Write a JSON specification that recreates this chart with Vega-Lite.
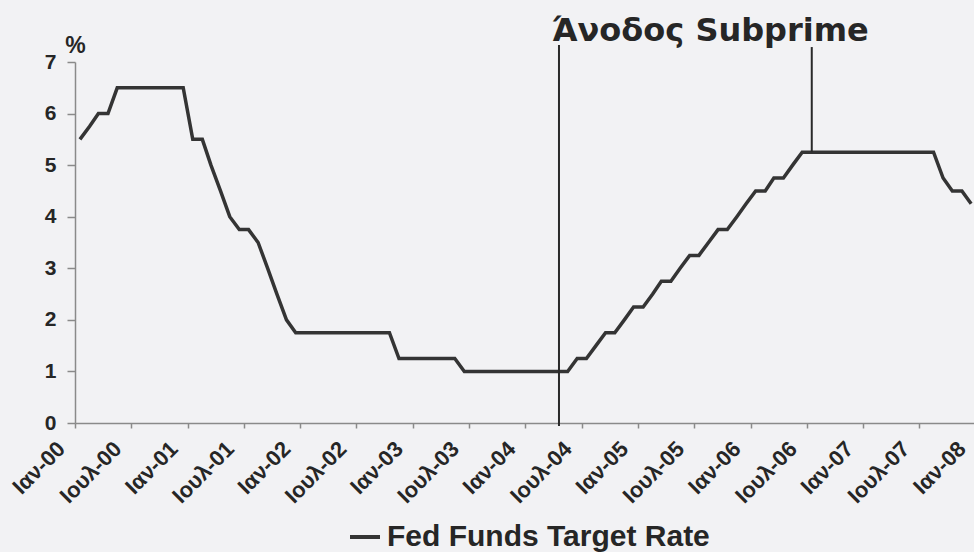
{
  "$schema": "https://vega.github.io/schema/vega-lite/v6.json",
  "width": 902,
  "height": 361,
  "autosize": {"type": "none"},
  "padding": {"left": 75, "top": 62, "right": 0, "bottom": 129},
  "background": "#f2f2f4",
  "title": {
    "text": "Άνοδος Subprime",
    "anchor": "start",
    "frame": "group",
    "font": "DejaVu Sans",
    "fontWeight": "bold",
    "fontSize": 32,
    "color": "#262626",
    "baseline": "alphabetic",
    "offset": 0,
    "dx": 477,
    "dy": 39
  },
  "config": {"view": {"stroke": null}},
  "datasets": {
    "rate": [
      {"date": "2000-01-01", "rate": 5.5}, {"date": "2000-02-01", "rate": 5.75}, {"date": "2000-03-01", "rate": 6.0}, {"date": "2000-04-01", "rate": 6.0},
      {"date": "2000-05-01", "rate": 6.5}, {"date": "2000-06-01", "rate": 6.5}, {"date": "2000-07-01", "rate": 6.5}, {"date": "2000-08-01", "rate": 6.5},
      {"date": "2000-09-01", "rate": 6.5}, {"date": "2000-10-01", "rate": 6.5}, {"date": "2000-11-01", "rate": 6.5}, {"date": "2000-12-01", "rate": 6.5},
      {"date": "2001-01-01", "rate": 5.5}, {"date": "2001-02-01", "rate": 5.5}, {"date": "2001-03-01", "rate": 5.0}, {"date": "2001-04-01", "rate": 4.5},
      {"date": "2001-05-01", "rate": 4.0}, {"date": "2001-06-01", "rate": 3.75}, {"date": "2001-07-01", "rate": 3.75}, {"date": "2001-08-01", "rate": 3.5},
      {"date": "2001-09-01", "rate": 3.0}, {"date": "2001-10-01", "rate": 2.5}, {"date": "2001-11-01", "rate": 2.0}, {"date": "2001-12-01", "rate": 1.75},
      {"date": "2002-01-01", "rate": 1.75}, {"date": "2002-02-01", "rate": 1.75}, {"date": "2002-03-01", "rate": 1.75}, {"date": "2002-04-01", "rate": 1.75},
      {"date": "2002-05-01", "rate": 1.75}, {"date": "2002-06-01", "rate": 1.75}, {"date": "2002-07-01", "rate": 1.75}, {"date": "2002-08-01", "rate": 1.75},
      {"date": "2002-09-01", "rate": 1.75}, {"date": "2002-10-01", "rate": 1.75}, {"date": "2002-11-01", "rate": 1.25}, {"date": "2002-12-01", "rate": 1.25},
      {"date": "2003-01-01", "rate": 1.25}, {"date": "2003-02-01", "rate": 1.25}, {"date": "2003-03-01", "rate": 1.25}, {"date": "2003-04-01", "rate": 1.25},
      {"date": "2003-05-01", "rate": 1.25}, {"date": "2003-06-01", "rate": 1.0}, {"date": "2003-07-01", "rate": 1.0}, {"date": "2003-08-01", "rate": 1.0},
      {"date": "2003-09-01", "rate": 1.0}, {"date": "2003-10-01", "rate": 1.0}, {"date": "2003-11-01", "rate": 1.0}, {"date": "2003-12-01", "rate": 1.0},
      {"date": "2004-01-01", "rate": 1.0}, {"date": "2004-02-01", "rate": 1.0}, {"date": "2004-03-01", "rate": 1.0}, {"date": "2004-04-01", "rate": 1.0},
      {"date": "2004-05-01", "rate": 1.0}, {"date": "2004-06-01", "rate": 1.25}, {"date": "2004-07-01", "rate": 1.25}, {"date": "2004-08-01", "rate": 1.5},
      {"date": "2004-09-01", "rate": 1.75}, {"date": "2004-10-01", "rate": 1.75}, {"date": "2004-11-01", "rate": 2.0}, {"date": "2004-12-01", "rate": 2.25},
      {"date": "2005-01-01", "rate": 2.25}, {"date": "2005-02-01", "rate": 2.5}, {"date": "2005-03-01", "rate": 2.75}, {"date": "2005-04-01", "rate": 2.75},
      {"date": "2005-05-01", "rate": 3.0}, {"date": "2005-06-01", "rate": 3.25}, {"date": "2005-07-01", "rate": 3.25}, {"date": "2005-08-01", "rate": 3.5},
      {"date": "2005-09-01", "rate": 3.75}, {"date": "2005-10-01", "rate": 3.75}, {"date": "2005-11-01", "rate": 4.0}, {"date": "2005-12-01", "rate": 4.25},
      {"date": "2006-01-01", "rate": 4.5}, {"date": "2006-02-01", "rate": 4.5}, {"date": "2006-03-01", "rate": 4.75}, {"date": "2006-04-01", "rate": 4.75},
      {"date": "2006-05-01", "rate": 5.0}, {"date": "2006-06-01", "rate": 5.25}, {"date": "2006-07-01", "rate": 5.25}, {"date": "2006-08-01", "rate": 5.25},
      {"date": "2006-09-01", "rate": 5.25}, {"date": "2006-10-01", "rate": 5.25}, {"date": "2006-11-01", "rate": 5.25}, {"date": "2006-12-01", "rate": 5.25},
      {"date": "2007-01-01", "rate": 5.25}, {"date": "2007-02-01", "rate": 5.25}, {"date": "2007-03-01", "rate": 5.25}, {"date": "2007-04-01", "rate": 5.25},
      {"date": "2007-05-01", "rate": 5.25}, {"date": "2007-06-01", "rate": 5.25}, {"date": "2007-07-01", "rate": 5.25}, {"date": "2007-08-01", "rate": 5.25},
      {"date": "2007-09-01", "rate": 4.75}, {"date": "2007-10-01", "rate": 4.5}, {"date": "2007-11-01", "rate": 4.5}, {"date": "2007-12-01", "rate": 4.25}
    ],
    "events": [
      {"date": "2004-04-03", "low": -0.06, "high": 7.33},
      {"date": "2006-07-02", "low": 5.25, "high": 7.29}
    ]
  },
  "layer": [
    {
      "data": {"name": "rate"},
      "mark": {"type": "line", "strokeWidth": 3.5, "clip": true},
      "encoding": {
        "x": {
          "field": "date",
          "type": "temporal",
          "scale": {
            "type": "utc",
            "domain": [
              {"year": 1999, "month": 12, "date": 16, "utc": true},
              {"year": 2007, "month": 12, "date": 20, "utc": true}
            ]
          },
          "axis": {
            "title": null,
            "grid": false,
            "values": [
              {"year": 1999, "month": 12, "date": 16, "utc": true}, {"year": 2000, "month": 6, "date": 16, "utc": true},
              {"year": 2000, "month": 12, "date": 16, "utc": true}, {"year": 2001, "month": 6, "date": 16, "utc": true},
              {"year": 2001, "month": 12, "date": 16, "utc": true}, {"year": 2002, "month": 6, "date": 16, "utc": true},
              {"year": 2002, "month": 12, "date": 16, "utc": true}, {"year": 2003, "month": 6, "date": 16, "utc": true},
              {"year": 2003, "month": 12, "date": 16, "utc": true}, {"year": 2004, "month": 6, "date": 16, "utc": true},
              {"year": 2004, "month": 12, "date": 16, "utc": true}, {"year": 2005, "month": 6, "date": 16, "utc": true},
              {"year": 2005, "month": 12, "date": 16, "utc": true}, {"year": 2006, "month": 6, "date": 16, "utc": true},
              {"year": 2006, "month": 12, "date": 16, "utc": true}, {"year": 2007, "month": 6, "date": 16, "utc": true},
              {"year": 2007, "month": 12, "date": 16, "utc": true}
            ],
            "labelExpr": "(utcmonth(datum.value + 1728000000) == 0 ? 'Ιαν-' : 'Ιουλ-') + utcFormat(datum.value + 1728000000, '%y')",
            "labelAngle": -45,
            "labelAlign": "right",
            "labelBaseline": "middle",
            "labelFlush": false,
            "labelOverlap": false,
            "labelBound": false,
            "labelOffset": -14,
            "tickSize": 5,
            "labelPadding": 17,
            "labelFont": "Liberation Sans",
            "labelFontWeight": "bold",
            "labelFontSize": 22,
            "labelColor": "#262626",
            "domainColor": "#8a8a8a",
            "domainWidth": 1.5,
            "tickColor": "#8a8a8a",
            "tickWidth": 1.5
          }
        },
        "y": {
          "field": "rate",
          "type": "quantitative",
          "scale": {"domain": [0, 7], "nice": false, "zero": true},
          "axis": {
            "values": [0, 1, 2, 3, 4, 5, 6, 7],
            "format": "d",
            "grid": false,
            "tickSize": 8,
            "labelPadding": 11,
            "labelFont": "Liberation Sans",
            "labelFontWeight": "bold",
            "labelFontSize": 21,
            "labelColor": "#262626",
            "domainColor": "#8a8a8a",
            "domainWidth": 1.5,
            "tickColor": "#8a8a8a",
            "tickWidth": 1.5,
            "title": "%",
            "titleAngle": 0,
            "titleX": 0,
            "titleY": -17,
            "titleAlign": "center",
            "titleBaseline": "middle",
            "titleFont": "Liberation Sans",
            "titleFontWeight": "bold",
            "titleFontSize": 23,
            "titleColor": "#262626"
          }
        },
        "color": {
          "datum": "Fed Funds Target Rate",
          "type": "nominal",
          "scale": {"range": ["#343434"]},
          "legend": {
            "title": null,
            "orient": "none",
            "legendX": 273,
            "legendY": 458,
            "direction": "horizontal",
            "symbolType": "stroke",
            "symbolSize": 900,
            "symbolStrokeWidth": 4,
            "labelFont": "Liberation Sans",
            "labelFontWeight": "bold",
            "labelFontSize": 30,
            "labelColor": "#262626",
            "labelOffset": 5,
            "labelLimit": 600,
            "padding": 0
          }
        }
      }
    },
    {
      "data": {"name": "events"},
      "mark": {"type": "rule", "strokeWidth": 2, "color": "#2a2a2a"},
      "encoding": {
        "x": {"field": "date", "type": "temporal"},
        "y": {"field": "low", "type": "quantitative"},
        "y2": {"field": "high"}
      }
    }
  ]
}
